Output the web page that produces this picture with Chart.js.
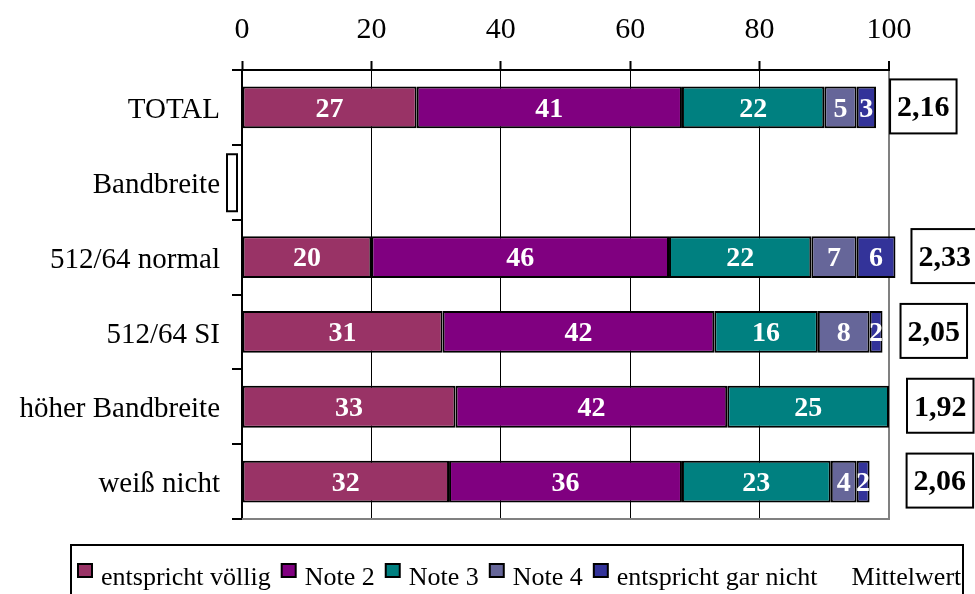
<!DOCTYPE html>
<html>
<head>
<meta charset="utf-8">
<script src="https://cdn.jsdelivr.net/npm/chart.js@4"></script>
<style>
html,body{margin:0;padding:0;background:#fff;}
#c{display:block;}
</style>
</head>
<body>
<canvas id="c" width="975" height="594"></canvas>
<script>
const categories = ['TOTAL', 'Bandbreite', '512/64 normal', '512/64 SI', 'höher Bandbreite', 'weiß nicht'];
const seriesNames = ['entspricht völlig', 'Note 2', 'Note 3', 'Note 4', 'entspricht gar nicht'];
const voellig  = [27, null, 20, 31, 33, 32];
const note2    = [41, null, 46, 42, 42, 36];
const note3    = [22, null, 22, 16, 25, 23];
const note4    = [5,  null, 7,  8,  null, 4];
const garNicht = [3,  null, 6,  2,  null, 2];
const mittelwert = [2.16, null, 2.33, 2.05, 1.92, 2.06];
const meanLabel = 'Mittelwert';
const xTickValues = [0, 20, 40, 60, 80, 100];

const seriesData = [voellig, note2, note3, note4, garNicht];
const colors = ['#993366', '#800080', '#008080', '#666699', '#333399'];
const SERIF = '"Liberation Serif", "Times New Roman", serif';

const datasets = seriesData.map((d, i) => ({
  label: seriesNames[i],
  data: d,
  backgroundColor: colors[i],
  borderColor: '#000',
  borderWidth: 2,
  borderSkipped: false,
  categoryPercentage: 1,
  barPercentage: 0.56,
  clip: false
}));

const customPlugin = {
  id: 'custom',
  beforeDatasetsDraw(chart) {
    const {ctx, chartArea} = chart;
    ctx.save();
    ctx.strokeStyle = '#808080';
    ctx.lineWidth = 2;
    ctx.beginPath();
    ctx.moveTo(chartArea.left, chartArea.bottom);
    ctx.lineTo(chartArea.right + 1, chartArea.bottom);
    ctx.stroke();
    ctx.restore();
  },
  afterDatasetsDraw(chart, args, opts) {
    const {ctx, chartArea, scales} = chart;
    const xs = scales.x, ys = scales.y;
    ctx.save();
    // segment value labels
    ctx.font = 'bold 28px ' + SERIF;
    ctx.fillStyle = '#fff';
    ctx.textAlign = 'center';
    ctx.textBaseline = 'middle';
    seriesData.forEach((d, i) => {
      const meta = chart.getDatasetMeta(i);
      meta.data.forEach((bar, j) => {
        const v = d[j];
        if (v == null) return;
        const p = bar.getProps(['x', 'y', 'base'], true);
        ctx.fillText(String(v), (p.x + p.base) / 2, p.y + 2);
      });
    });
    // mean boxes
    ctx.font = 'bold 30px ' + SERIF;
    mittelwert.forEach((m, j) => {
      if (m == null) return;
      const total = seriesData.reduce((s, d) => s + (d[j] || 0), 0);
      const end = xs.getPixelForValue(total);
      const txt = m.toFixed(2).replace('.', ',');
      const w = ctx.measureText(txt).width + 14;
      const h = 54;
      const left = end + opts.gaps[j];
      const cy = ys.getPixelForValue(j) - 1;
      ctx.fillStyle = '#fff';
      ctx.fillRect(left, cy - h / 2, w, h);
      ctx.strokeStyle = '#000';
      ctx.lineWidth = 2;
      ctx.strokeRect(left, cy - h / 2, w, h);
      ctx.fillStyle = '#000';
      ctx.fillText(txt, left + w / 2, cy + 2);
    });
    // small empty box at the "Bandbreite" row
    const by = ys.getPixelForValue(1);
    ctx.fillStyle = '#fff';
    ctx.fillRect(chartArea.left - 15, by - 28, 10, 57);
    ctx.strokeStyle = '#000';
    ctx.lineWidth = 2;
    ctx.strokeRect(chartArea.left - 15, by - 28, 10, 57);
    ctx.restore();
  },
  afterDraw(chart) {
    const {ctx} = chart;
    ctx.save();
    // legend frame
    ctx.strokeStyle = '#000';
    ctx.lineWidth = 2;
    ctx.strokeRect(71, 545, 892, 100);
    ctx.font = '26px ' + SERIF;
    ctx.textBaseline = 'alphabetic';
    ctx.textAlign = 'left';
    let x = 78;
    const items = seriesNames.map((n, i) => ({name: n, color: colors[i]}));
    items.push({name: meanLabel, color: null});
    items.forEach((it) => {
      if (it.color) {
        ctx.fillStyle = it.color;
        ctx.fillRect(x, 564, 14, 13);
        ctx.strokeStyle = '#000';
        ctx.lineWidth = 2;
        ctx.strokeRect(x, 564, 14, 13);
      }
      ctx.fillStyle = '#000';
      ctx.fillText(it.name, x + 23, 585);
      x += 23 + ctx.measureText(it.name).width + 11;
    });
    ctx.restore();
  }
};

new Chart(document.getElementById('c'), {
  type: 'bar',
  data: { labels: categories, datasets },
  options: {
    indexAxis: 'y',
    responsive: false,
    devicePixelRatio: 1,
    animation: false,
    layout: { padding: { left: 0, right: 86, top: 0, bottom: 75 } },
    plugins: {
      legend: { display: false },
      tooltip: { enabled: false },
      custom: { gaps: [14, 0, 16, 18, 18, 37] }
    },
    scales: {
      x: {
        position: 'top',
        stacked: true,
        min: 0,
        max: 100,
        afterBuildTicks(scale) { scale.ticks = xTickValues.map(v => ({ value: v })); },
        afterFit(scale) { scale.height = 70; },
        ticks: {
          color: '#000',
          font: { family: SERIF, size: 30 },
          padding: 13
        },
        grid: {
          drawOnChartArea: true,
          color: c => (c.tick && c.tick.value === 100) ? '#808080' : '#000',
          lineWidth: c => (c.tick && c.tick.value === 100) ? 2 : 1,
          tickColor: '#000',
          tickLength: 9,
          tickWidth: 2
        },
        border: { display: true, color: '#000', width: 2 }
      },
      y: {
        stacked: true,
        afterFit(scale) { scale.width = 242; },
        ticks: {
          color: '#000',
          font: { family: SERIF, size: 29 },
          padding: 12,
          labelOffset: 3
        },
        grid: {
          offset: true,
          drawOnChartArea: false,
          color: '#000',
          tickLength: 10,
          lineWidth: 2
        },
        border: { display: true, color: '#000', width: 2 }
      }
    }
  },
  plugins: [customPlugin]
});
</script>
</body>
</html>
